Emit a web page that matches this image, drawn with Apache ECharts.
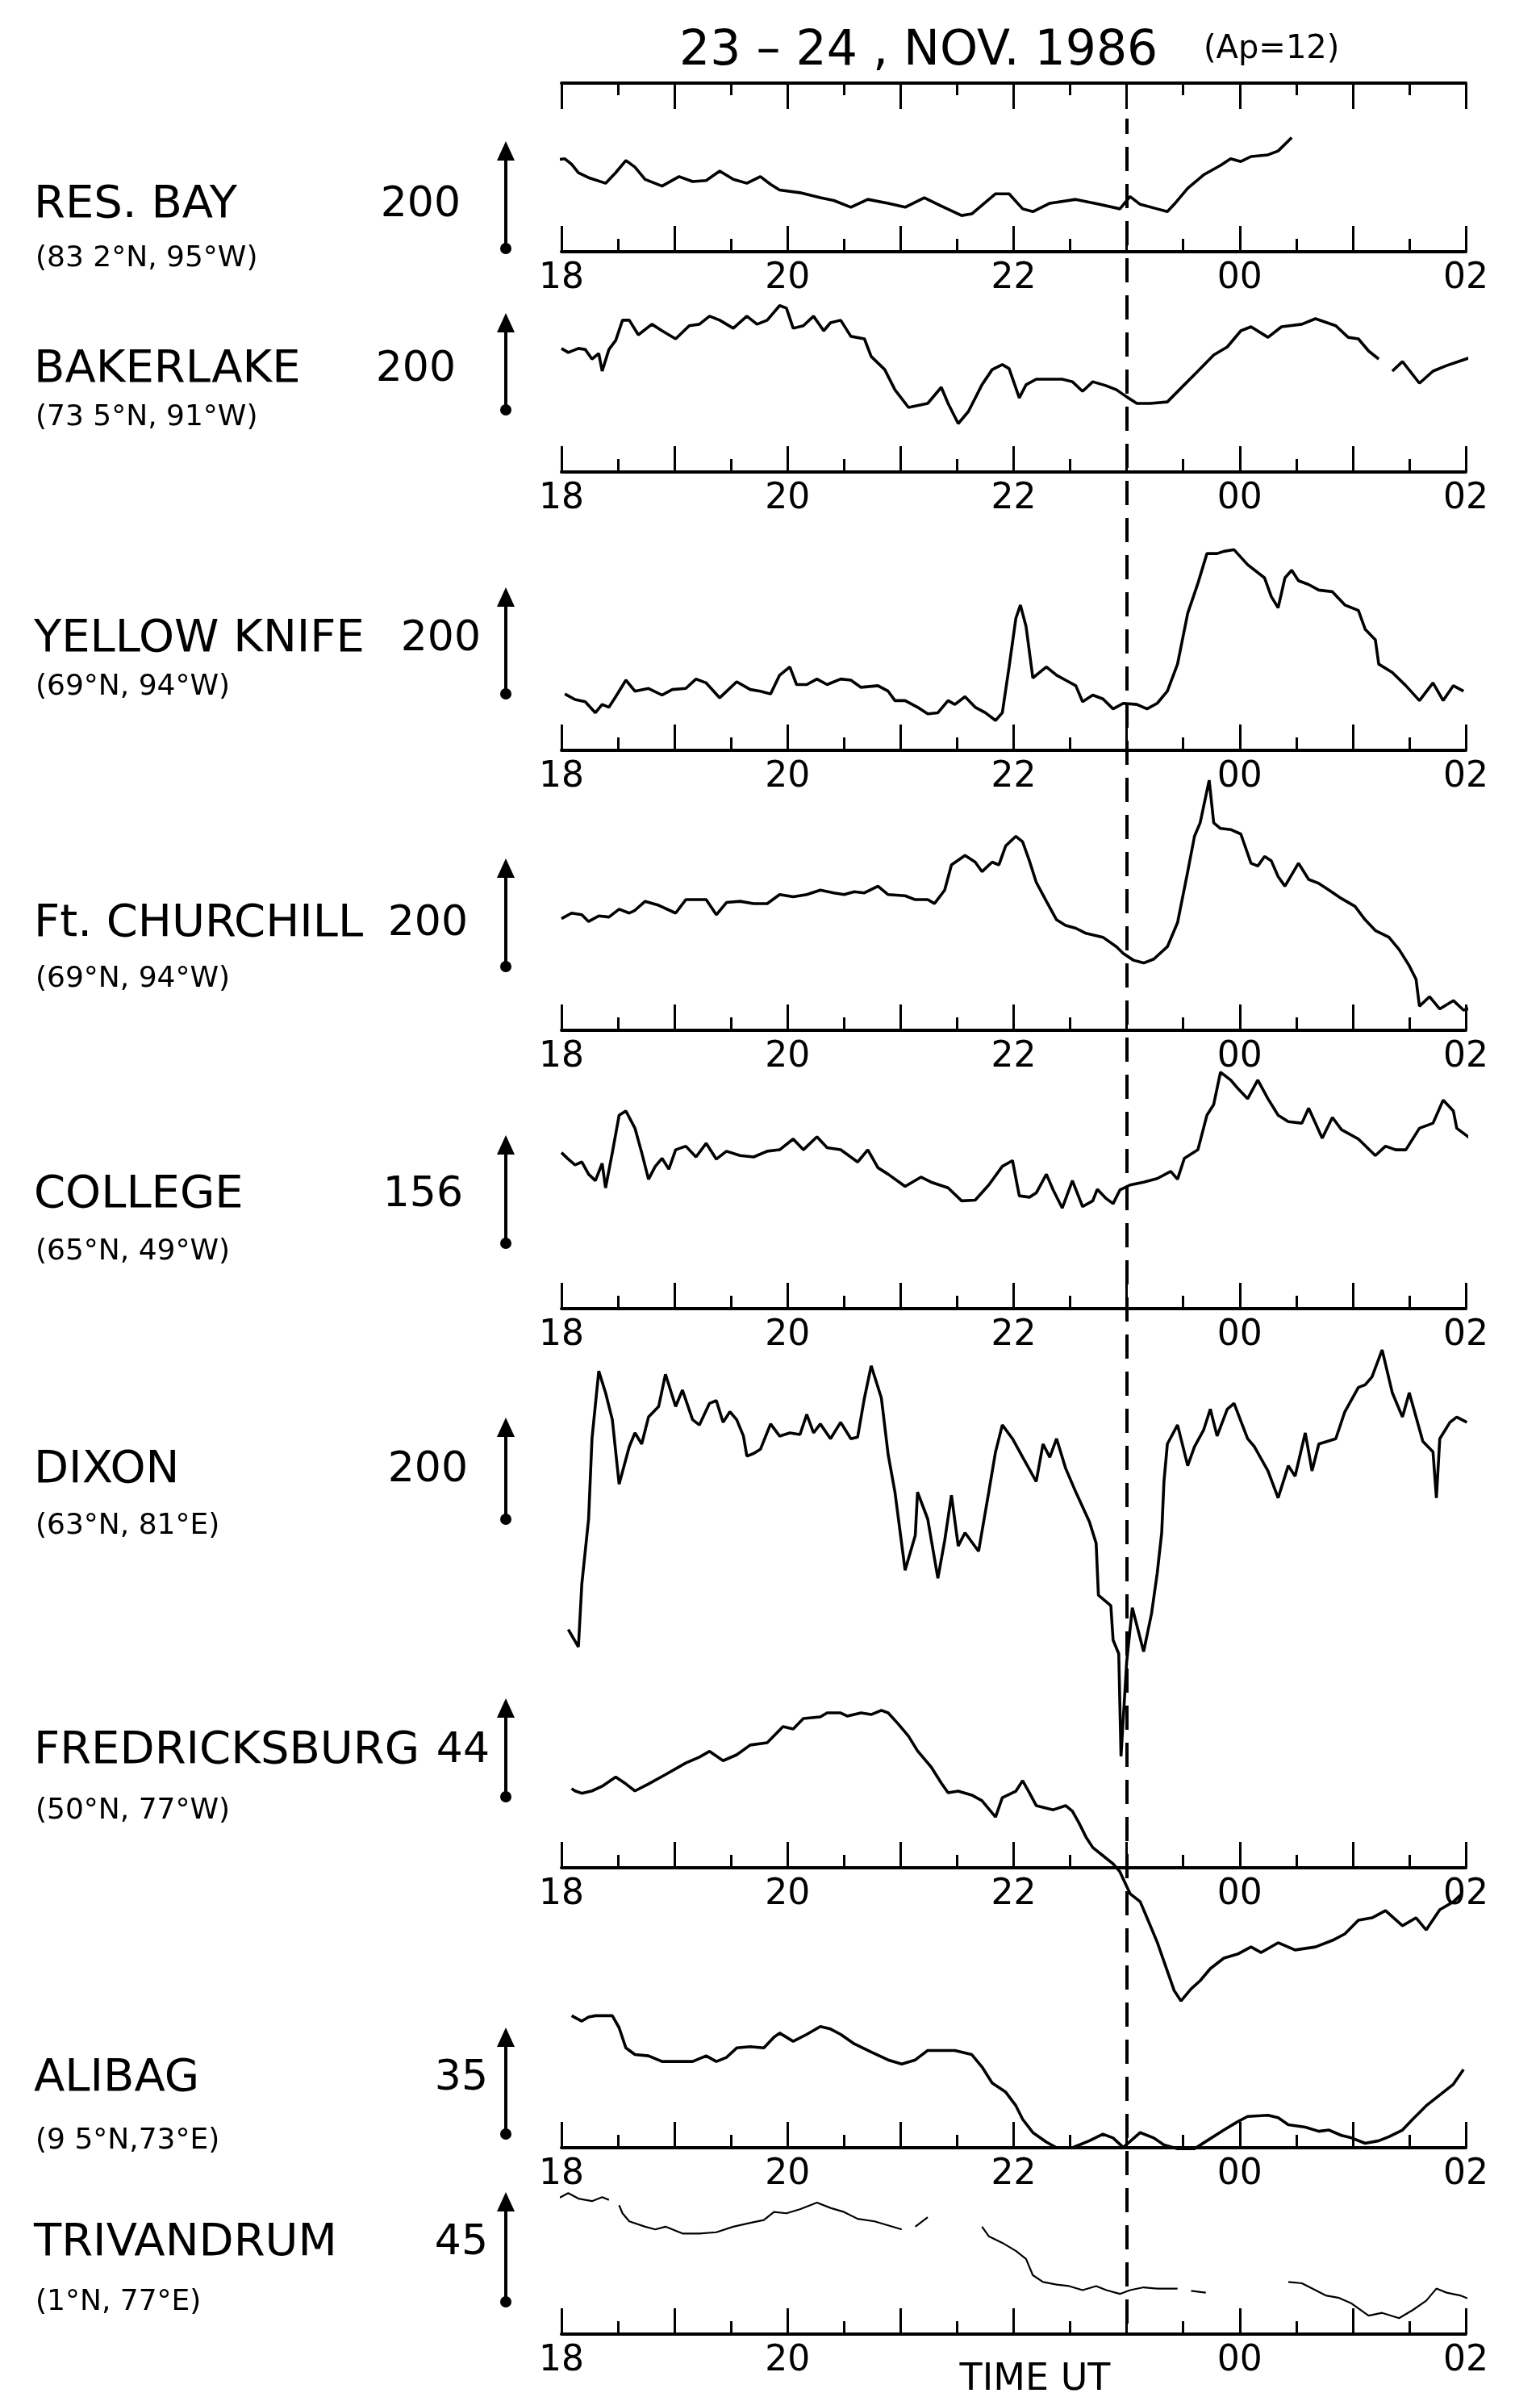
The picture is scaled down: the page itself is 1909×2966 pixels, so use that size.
<!DOCTYPE html>
<html><head><meta charset="utf-8">
<script src="https://cdn.jsdelivr.net/npm/echarts@6/dist/echarts.min.js"></script>
<style>html,body{margin:0;padding:0;background:#fff}#c{width:1909px;height:2966px}</style>
</head><body><div id="c"></div>
<script>
// ---------------- DATA (time in decimal UT hours, H variation in nT) ----------------
const RES_BAY = [[17.91,164],[18.03,167],[18.09,157],[18.15,142],[18.24,133],[18.39,123],[18.48,142],[18.57,164],[18.65,152],[18.74,130],[18.89,118],[19.04,135],[19.16,126],[19.28,128],[19.40,145],[19.52,130],[19.64,123],[19.76,135],[19.85,121],[19.93,111],[20.11,106],[20.29,97],[20.41,92],[20.56,80],[20.71,94],[20.89,87],[21.04,80],[21.21,97],[21.36,82],[21.54,65],[21.63,68],[21.84,104],[21.96,104],[22.08,77],[22.17,72],[22.32,87],[22.55,94],[22.76,85],[22.94,77],[23.03,99],[23.12,85],[23.27,77],[23.36,72],[23.42,85],[23.54,114],[23.68,138],[23.83,155],[23.92,167],[24.01,162],[24.10,171],[24.25,174],[24.34,181],[24.46,205]];
const BAKER_LAKE = [[18.00,245],[18.06,237],[18.15,245],[18.21,243],[18.27,224],[18.33,235],[18.36,200],[18.42,243],[18.48,261],[18.54,301],[18.60,301],[18.68,272],[18.80,293],[18.89,280],[19.01,264],[19.13,290],[19.22,293],[19.31,309],[19.40,301],[19.52,285],[19.64,309],[19.73,293],[19.82,301],[19.93,330],[19.99,325],[20.05,285],[20.14,290],[20.23,309],[20.32,280],[20.38,296],[20.47,301],[20.56,269],[20.68,264],[20.74,229],[20.86,203],[20.95,163],[21.07,128],[21.24,136],[21.36,168],[21.42,136],[21.51,96],[21.60,120],[21.72,173],[21.81,203],[21.90,213],[21.96,205],[22.05,147],[22.11,173],[22.20,184],[22.43,184],[22.52,179],[22.61,160],[22.70,179],[22.82,171],[22.91,163],[23.00,149],[23.09,136],[23.21,136],[23.36,139],[23.51,173],[23.63,200],[23.77,232],[23.89,248],[24.01,280],[24.10,288],[24.25,267],[24.37,288],[24.55,293],[24.67,304],[24.85,290],[24.96,267],[25.05,264],[25.14,240],[25.23,224],[25.29,null],[25.35,200],[25.44,219],[25.59,176],[25.71,200],[25.83,211],[26.04,227]];
const YELLOW_KNIFE = [[18.03,102],[18.12,92],[18.21,88],[18.30,68],[18.36,83],[18.42,78],[18.48,97],[18.57,127],[18.65,107],[18.77,112],[18.89,100],[18.98,110],[19.10,112],[19.19,129],[19.28,122],[19.40,95],[19.55,124],[19.67,110],[19.76,107],[19.85,102],[19.93,136],[20.02,151],[20.08,119],[20.17,119],[20.26,129],[20.35,119],[20.47,129],[20.56,127],[20.65,114],[20.80,117],[20.89,107],[20.95,90],[21.04,90],[21.15,78],[21.24,66],[21.33,68],[21.42,90],[21.48,83],[21.57,97],[21.66,78],[21.75,68],[21.84,54],[21.90,68],[21.96,151],[22.02,239],[22.06,263],[22.11,224],[22.17,131],[22.23,141],[22.29,151],[22.38,136],[22.46,127],[22.55,117],[22.61,88],[22.70,100],[22.79,93],[22.88,75],[22.97,85],[23.09,83],[23.18,75],[23.27,85],[23.36,107],[23.45,156],[23.54,248],[23.63,302],[23.71,356],[23.80,356],[23.86,360],[23.95,363],[24.07,336],[24.22,312],[24.28,278],[24.34,258],[24.40,312],[24.46,326],[24.52,307],[24.61,300],[24.70,290],[24.82,287],[24.93,263],[25.05,253],[25.11,219],[25.20,200],[25.23,156],[25.35,141],[25.47,117],[25.59,90],[25.71,122],[25.80,90],[25.89,117],[25.98,107]];
const FT_CHURCHILL = [[18.00,199],[18.09,209],[18.18,206],[18.24,194],[18.33,204],[18.42,202],[18.51,216],[18.60,209],[18.65,214],[18.74,230],[18.86,223],[19.01,209],[19.10,233],[19.28,233],[19.37,206],[19.46,228],[19.58,230],[19.70,226],[19.82,226],[19.93,242],[20.05,238],[20.17,242],[20.29,250],[20.41,245],[20.50,242],[20.59,247],[20.68,245],[20.80,257],[20.89,242],[21.04,240],[21.13,233],[21.24,233],[21.30,226],[21.39,250],[21.45,295],[21.57,312],[21.66,300],[21.72,283],[21.81,300],[21.87,295],[21.93,329],[22.02,346],[22.08,336],[22.14,302],[22.20,264],[22.29,230],[22.38,197],[22.46,187],[22.55,182],[22.64,173],[22.79,166],[22.91,149],[22.97,137],[23.06,125],[23.15,120],[23.24,127],[23.36,149],[23.45,192],[23.54,283],[23.60,346],[23.65,370],[23.73,446],[23.77,370],[23.83,360],[23.92,358],[24.01,350],[24.10,298],[24.16,293],[24.22,310],[24.28,302],[24.34,274],[24.40,257],[24.52,298],[24.61,269],[24.70,262],[24.79,250],[24.90,235],[25.02,221],[25.11,197],[25.20,178],[25.32,166],[25.41,144],[25.50,115],[25.56,91],[25.59,43],[25.68,60],[25.77,38],[25.89,53],[25.98,36],[26.07,41],[26.18,31]];
const COLLEGE = [[18.00,217],[18.06,208],[18.12,200],[18.18,204],[18.24,187],[18.30,178],[18.36,202],[18.39,168],[18.45,217],[18.51,269],[18.57,275],[18.65,251],[18.71,217],[18.77,180],[18.83,198],[18.89,209],[18.95,194],[19.01,221],[19.10,226],[19.19,211],[19.28,230],[19.37,208],[19.46,219],[19.58,213],[19.70,211],[19.82,219],[19.93,221],[20.05,236],[20.14,221],[20.26,239],[20.35,224],[20.47,221],[20.62,204],[20.71,221],[20.80,196],[20.89,187],[21.04,170],[21.18,183],[21.27,176],[21.42,168],[21.54,150],[21.66,151],[21.78,172],[21.90,198],[21.99,206],[22.05,157],[22.14,155],[22.20,161],[22.29,187],[22.35,165],[22.43,140],[22.52,178],[22.61,142],[22.70,150],[22.74,166],[22.82,153],[22.88,146],[22.94,165],[23.03,172],[23.15,176],[23.27,181],[23.39,191],[23.45,180],[23.51,209],[23.63,221],[23.71,269],[23.77,284],[23.83,329],[23.92,318],[23.98,307],[24.07,292],[24.16,318],[24.25,292],[24.34,269],[24.43,260],[24.55,258],[24.61,279],[24.73,237],[24.82,266],[24.90,249],[25.05,236],[25.20,213],[25.29,226],[25.38,221],[25.47,221],[25.59,251],[25.71,258],[25.80,290],[25.89,275],[25.92,251],[26.04,237],[26.10,213],[26.15,161]];
const DIXON = [[18.06,-201],[18.15,-234],[18.18,-115],[18.24,8],[18.27,160],[18.33,288],[18.39,247],[18.45,196],[18.51,74],[18.60,145],[18.65,171],[18.71,150],[18.77,201],[18.86,221],[18.92,282],[19.01,221],[19.07,252],[19.16,196],[19.22,186],[19.31,227],[19.37,232],[19.43,191],[19.49,211],[19.55,196],[19.61,165],[19.64,127],[19.70,132],[19.76,140],[19.85,188],[19.93,165],[20.02,171],[20.11,168],[20.17,206],[20.23,171],[20.29,188],[20.38,160],[20.47,191],[20.56,160],[20.62,163],[20.68,237],[20.74,298],[20.83,237],[20.89,130],[20.95,59],[21.04,-89],[21.13,-23],[21.15,59],[21.24,8],[21.33,-104],[21.39,-33],[21.45,53],[21.51,-43],[21.57,-18],[21.69,-53],[21.78,59],[21.84,135],[21.90,186],[21.99,160],[22.08,125],[22.20,79],[22.26,150],[22.32,125],[22.38,160],[22.46,104],[22.55,59],[22.67,3],[22.73,-38],[22.75,-136],[22.86,-156],[22.88,-221],[22.93,-247],[22.95,-441],[23.00,-263],[23.05,-160],[23.15,-243],[23.22,-171],[23.27,-95],[23.31,-18],[23.33,79],[23.36,150],[23.45,186],[23.54,109],[23.60,145],[23.68,176],[23.74,216],[23.80,165],[23.89,216],[23.95,227],[24.07,160],[24.13,145],[24.25,99],[24.34,48],[24.43,109],[24.49,89],[24.58,171],[24.64,99],[24.70,150],[24.85,160],[24.93,211],[25.05,257],[25.11,262],[25.17,277],[25.26,328],[25.35,247],[25.44,201],[25.50,247],[25.56,201],[25.62,155],[25.71,135],[25.74,48],[25.77,160],[25.86,191],[25.92,201],[26.01,191]];
const FREDRICKSBURG = [[18.09,34],[18.12,33],[18.18,32],[18.27,33],[18.36,35],[18.48,39],[18.57,36],[18.65,33],[18.77,36],[18.92,40],[19.10,45],[19.22,47.5],[19.31,50],[19.43,46],[19.55,48.5],[19.67,52.7],[19.82,53.7],[19.96,60.6],[20.05,59.6],[20.14,64.1],[20.29,64.8],[20.35,66.5],[20.47,66.5],[20.53,65.1],[20.65,66.5],[20.74,65.8],[20.83,67.6],[20.89,66.5],[20.98,61.7],[21.07,56.5],[21.15,50.2],[21.27,43.3],[21.36,36.4],[21.42,32.2],[21.51,32.9],[21.63,31.2],[21.72,28.8],[21.84,21.8],[21.90,30.1],[22.02,32.9],[22.08,37.4],[22.14,32.2],[22.20,26.7],[22.35,24.9],[22.46,26.7],[22.52,24.3],[22.58,19.1],[22.64,13.2],[22.70,8.7],[22.79,5.2],[22.88,1.7],[22.94,-1.7],[23.03,-11.1],[23.12,-14.6],[23.18,-21.5],[23.27,-31.9],[23.36,-44.4],[23.42,-52.7],[23.48,-57.2],[23.57,-52.0],[23.65,-48.5],[23.74,-43.3],[23.86,-38.8],[23.98,-37.1],[24.10,-34.0],[24.19,-36.4],[24.34,-32.2],[24.49,-35.3],[24.67,-34.0],[24.82,-31.2],[24.93,-28.4],[25.05,-22.5],[25.17,-21.5],[25.29,-18.4],[25.44,-24.9],[25.56,-21.5],[25.65,-26.7],[25.77,-18.0],[25.89,-14.6],[25.96,-11.4]];
const ALIBAG = [[18.09,41.8],[18.18,40.1],[18.24,41.4],[18.30,41.8],[18.45,41.8],[18.51,38.0],[18.57,31.6],[18.65,29.5],[18.77,29.1],[18.89,27.3],[19.16,27.3],[19.28,29.1],[19.37,27.3],[19.46,28.6],[19.55,31.6],[19.67,32.0],[19.79,31.6],[19.88,35.0],[19.93,36.3],[20.05,33.7],[20.17,35.9],[20.29,38.4],[20.38,37.6],[20.47,35.9],[20.59,32.9],[20.74,30.3],[20.89,27.8],[21.01,26.5],[21.13,27.8],[21.24,30.8],[21.48,30.8],[21.63,29.5],[21.72,25.6],[21.81,20.5],[21.93,17.6],[22.02,13.3],[22.08,9.0],[22.17,4.8],[22.29,1.8],[22.38,0],[22.52,0],[22.67,2.2],[22.79,4.3],[22.88,3.1],[22.97,0.1],[23.12,4.8],[23.24,3.1],[23.33,0.9],[23.45,-0.3],[23.60,-0.3],[23.71,2.2],[23.86,5.6],[23.98,8.2],[24.07,9.9],[24.25,10.3],[24.34,9.5],[24.43,7.3],[24.58,6.5],[24.70,5.2],[24.79,5.6],[24.90,3.9],[24.99,3.1],[25.11,1.4],[25.23,2.2],[25.32,3.5],[25.44,5.6],[25.53,9.0],[25.65,13.3],[25.77,16.7],[25.89,20.1],[25.98,24.8]];
const TRIVANDRUM = [[17.97,53.6],[18.06,55.8],[18.15,53.6],[18.27,52.6],[18.36,54.2],[18.42,53.1],[18.46,null],[18.51,51.0],[18.54,47.8],[18.60,44.6],[18.74,42.5],[18.83,41.4],[18.92,42.5],[19.07,39.8],[19.22,39.8],[19.37,40.3],[19.52,42.5],[19.67,44.0],[19.79,45.1],[19.88,48.3],[19.99,47.8],[20.11,49.4],[20.26,52.0],[20.38,49.9],[20.50,48.3],[20.62,45.6],[20.77,44.6],[20.89,43.0],[21.01,41.4],[21.07,null],[21.13,42.5],[21.24,46.2],[21.5,null],[21.72,42.5],[21.78,38.7],[21.90,36.1],[22.02,32.9],[22.11,29.7],[22.17,23.3],[22.26,20.6],[22.38,19.6],[22.49,19.0],[22.61,17.4],[22.73,19.0],[22.82,17.4],[22.94,15.9],[23.03,17.4],[23.15,18.5],[23.27,18.0],[23.45,18.0],[23.51,null],[23.57,17.1],[23.70,16.4],[24.0,null],[24.43,20.6],[24.55,20.1],[24.67,17.4],[24.76,15.3],[24.88,14.3],[24.99,12.1],[25.14,7.3],[25.26,8.4],[25.41,6.3],[25.53,9.5],[25.65,13.2],[25.74,18.0],[25.83,16.4],[25.95,15.3],[26.07,13.2],[26.15,11.1],[26.21,13.7]];

const STATIONS = ['RES. BAY','BAKERLAKE','YELLOW KNIFE','Ft. CHURCHILL','COLLEGE','DIXON','FREDRICKSBURG','ALIBAG','TRIVANDRUM'];
const COORDS = ['(83 2°N, 95°W)','(73 5°N, 91°W)','(69°N, 94°W)','(69°N, 94°W)','(65°N, 49°W)','(63°N, 81°E)','(50°N, 77°W)','(9 5°N,73°E)','(1°N, 77°E)'];
const SCALE_VALUES = [200,200,200,200,156,200,44,35,45];
const HOUR_LABELS = {18:'18',20:'20',22:'22',24:'00',26:'02'};
const TITLE_MAIN = '23 – 24 , NOV. 1986';
const TITLE_AP = '(Ap=12)';
const X_TITLE = 'TIME UT';
const MARK_TIME = 23;
const SERIES_DATA = [RES_BAY,BAKER_LAKE,YELLOW_KNIFE,FT_CHURCHILL,COLLEGE,DIXON,FREDRICKSBURG,ALIBAG,TRIVANDRUM];

// ---------------- LAYOUT ----------------
const X_LEFT = 696, X_WIDTH = 1121;
const TOP_AXIS_Y = 103, DASH_BOTTOM = 2880;
const BASE_Y = [312,585,930,1277,1622,1888,2315,2662,2893];
const BAR_PX = [138,125,137,139,139,131,127,137,141];
const BAR_BOTTOM = [313,513,865,1203,1546,1888,2232,2650,2858];
const NAME_Y = [254,458,792,1145,1481,1822,2170,2576,2780];
const SUB_Y = [321,518,852,1214,1552,1892,2245,2654,2854];
const VAL_RIGHT = [571,565,596,580,574,580,607,605,605];
const SHOW_AXIS = [true,true,true,true,true,false,true,true,true];
const BAR_X = 627;
const FONT = '"DejaVu Sans", "Liberation Sans", sans-serif';

const chart = echarts.init(document.getElementById('c'), null, {renderer:'canvas'});

const grids = [{left:X_LEFT, width:X_WIDTH, top:TOP_AXIS_Y, height:DASH_BOTTOM-TOP_AXIS_Y}];
const xAxes = [{
  gridIndex:0, type:'value', min:18, max:26, interval:1, position:'top',
  axisLine:{show:true, onZero:false, lineStyle:{color:'#000', width:4}},
  axisTick:{show:true, inside:true, length:32, lineStyle:{color:'#000', width:3}},
  minorTick:{show:true, splitNumber:2, length:15, lineStyle:{color:'#000', width:3}},
  axisLabel:{show:false}, splitLine:{show:false}, minorSplitLine:{show:false}
}];
const yAxes = [{gridIndex:0, type:'value', min:0, max:1, show:false}];
const series = [{
  type:'line', xAxisIndex:0, yAxisIndex:0, data:[], silent:true,
  markLine:{silent:true, symbol:['none','none'], label:{show:false},
    lineStyle:{color:'#000', width:4, type:[30,16]},
    data:[[{coord:[MARK_TIME,0]},{coord:[MARK_TIME,(DASH_BOTTOM-147)/(DASH_BOTTOM-TOP_AXIS_Y)]}]]}
}];

SERIES_DATA.forEach((d,i)=>{
  const ppu = BAR_PX[i]/SCALE_VALUES[i];
  const up = Math.min(360, BASE_Y[i]-10);
  grids.push({left:X_LEFT, width:X_WIDTH, top:BASE_Y[i]-up, height:up});
  xAxes.push({
    gridIndex:i+1, type:'value', min:18, max:26, interval:1, position:'bottom', show:SHOW_AXIS[i],
    axisLine:{show:true, onZero:false, lineStyle:{color:'#000', width:4}},
    axisTick:{show:true, inside:true, length:32, lineStyle:{color:'#000', width:3}},
    minorTick:{show:true, splitNumber:2, length:16, lineStyle:{color:'#000', width:3}},
    axisLabel:{show:true, color:'#000', fontSize:44, fontFamily:FONT, margin:12,
      formatter:(v)=> (i===8 && v===22) ? '' : (HOUR_LABELS[v] || '')},
    splitLine:{show:false}, minorSplitLine:{show:false}
  });
  yAxes.push({gridIndex:i+1, type:'value', min:0, max:up/ppu, show:false});
  series.push({
    type:'line', xAxisIndex:i+1, yAxisIndex:i+1, data:d, symbol:'none', showSymbol:false,
    clip:false, connectNulls:false, silent:true,
    lineStyle:{color:'#000', width: i===8 ? 2.2 : 3.6}
  });
});

chart.setOption({
  animation:false, backgroundColor:'#fff',
  grid:grids, xAxis:xAxes, yAxis:yAxes, series:series
});

// ---------------- ANNOTATIONS (scale bars & labels) ----------------
const g = [];
function txt(text, x, y, size, align){
  return {type:'text', silent:true, style:{text:text, x:x, y:y, font:size+'px '+FONT, fill:'#000',
    textAlign:align, align:align, textVerticalAlign:'middle', verticalAlign:'middle'}};
}
SERIES_DATA.forEach((d,i)=>{
  const p0 = chart.convertToPixel({xAxisIndex:i+1, yAxisIndex:i+1},[18,0]);
  const p1 = chart.convertToPixel({xAxisIndex:i+1, yAxisIndex:i+1},[18,SCALE_VALUES[i]]);
  const len = p0[1]-p1[1];
  const bot = BAR_BOTTOM[i], top = bot-len;
  g.push({type:'line', silent:true, shape:{x1:BAR_X,y1:bot,x2:BAR_X,y2:top+12}, style:{stroke:'#000', lineWidth:4}});
  g.push({type:'polygon', silent:true, shape:{points:[[BAR_X,top],[BAR_X-11,top+24],[BAR_X+11,top+24]]}, style:{fill:'#000'}});
  g.push({type:'circle', silent:true, shape:{cx:BAR_X, cy:bot-5, r:7}, style:{fill:'#000'}});
  g.push(txt(STATIONS[i], 42, NAME_Y[i], 56, 'left'));
  g.push(txt(COORDS[i], 44, SUB_Y[i], 36, 'left'));
  g.push(txt(String(SCALE_VALUES[i]), VAL_RIGHT[i], NAME_Y[i], 52, 'right'));
});
g.push(txt(TITLE_MAIN, 842, 64, 60, 'left'));
g.push(txt(TITLE_AP, 1492, 62, 40, 'left'));
g.push(txt(X_TITLE, 1283, 2950, 46, 'center'));
chart.setOption({graphic:{elements:g}});
</script></body></html>
